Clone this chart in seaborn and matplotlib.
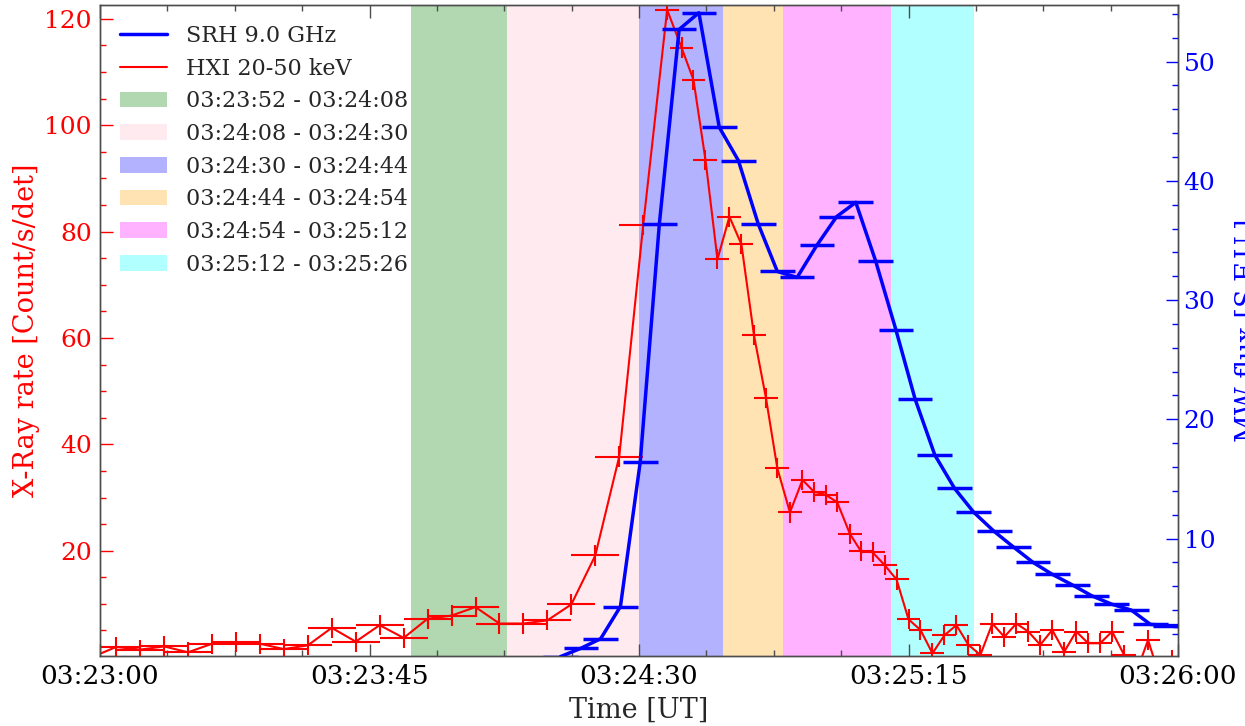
import numpy as np
import pandas as pd
import matplotlib
matplotlib.use("Agg")
import matplotlib.pyplot as plt
import seaborn as sns
from matplotlib.lines import Line2D
from matplotlib.patches import Patch
from matplotlib.ticker import MultipleLocator, FuncFormatter

# ---------------- data (times in seconds after 03:23:00 UT) ----------------
T_START = "03:23:00"

# HXI 20-50 keV, 4 s bins
hxi_t_4s = [-1.3, 2.7, 6.7, 10.7, 14.7, 18.7, 22.7, 26.7, 30.7, 34.7, 38.7, 42.7,
            46.7, 50.7, 54.7, 58.7, 62.7, 66.7, 70.7, 74.7, 78.7, 82.7, 86.7, 90.7]
hxi_rate_4s = [0.0, 1.9, 1.4, 2.0, 0.9, 2.5, 2.8, 2.5, 1.5, 2.2, 5.5, 2.9,
               6.0, 3.6, 7.2, 7.8, 9.4, 6.3, 6.3, 6.9, 9.9, 19.1, 37.7, 81.2]
# HXI 20-50 keV, 2 s bins
hxi_t_2s = [94.7, 97.1, 99.1, 101.1, 103.1, 105.1, 107.1, 109.2, 111.2, 113.1,
            115.2, 117.3, 119.2, 121.2, 123.1, 125.2, 127.0, 129.0, 131.0, 133.0,
            135.0, 137.0, 139.0, 141.0, 143.0, 145.0, 147.0, 149.0, 151.0, 153.0,
            155.0, 157.0, 159.0, 161.0, 163.0, 165.0, 167.0, 169.0, 171.0, 173.0,
            175.0, 177.0, 179.0]
hxi_rate_2s = [121.7, 114.6, 108.5, 93.5, 74.8, 82.8, 77.6, 60.5, 48.7, 35.5,
               27.2, 33.3, 31.1, 30.5, 29.1, 23.2, 20.0, 19.7, 17.3, 14.6,
               7.1, 5.1, 0.7, 4.1, 6.0, 2.3, 0.4, 6.3, 3.8, 6.3,
               4.8, 2.3, 5.1, 1.0, 4.8, 2.6, 2.6, 4.8, 0.4, -3.0,
               3.2, -3.9, -0.6]
hxi_half_4s = 4.0
hxi_half_2s = 2.0
hxi_err = 1.9

# SRH 9.0 GHz
srh_t = [76.9, 80.3, 83.6, 86.9, 90.2, 93.4, 96.7, 100.0, 103.4, 106.6, 109.9,
         113.1, 116.4, 119.7, 123.0, 126.2, 129.5, 132.9, 136.1, 139.4, 142.7,
         145.9, 149.3, 152.5, 155.8, 159.0, 162.4, 165.6, 168.9, 172.2, 175.4,
         178.7, 182.0]
srh_flux = [0.1, 0.8, 1.6, 4.3, 16.4, 36.4, 52.7, 54.1, 44.5, 41.7, 36.4,
            32.4, 31.9, 34.6, 37.0, 38.2, 33.3, 27.5, 21.7, 17.0, 14.2,
            12.2, 10.6, 9.3, 8.0, 7.0, 6.1, 5.2, 4.5, 4.0, 2.8,
            2.7, 2.7]
srh_half = 2.9

# highlighted intervals
band_starts = ["03:23:52", "03:24:08", "03:24:30", "03:24:44", "03:24:54", "03:25:12"]
band_ends = ["03:24:08", "03:24:30", "03:24:44", "03:24:54", "03:25:12", "03:25:26"]
band_colors = ["green", "pink", "blue", "orange", "magenta", "cyan"]

x_tick_labels = ["03:23:00", "03:23:45", "03:24:30", "03:25:15", "03:26:00"]


def hms_to_sec(s):
    h, m, sec = [float(v) for v in s.split(":")]
    return h * 3600 + m * 60 + sec


T0 = hms_to_sec(T_START)


def sec_fmt(v, pos=None):
    tot = int(round(T0 + v))
    return f"{tot // 3600:02d}:{(tot % 3600) // 60:02d}:{tot % 60:02d}"


# ---------------- style ----------------
sns.set_theme(style="ticks")
plt.rcParams["font.family"] = ["DejaVu Serif"]
plt.rcParams["axes.edgecolor"] = "0.3"
plt.rcParams["axes.linewidth"] = 1.0

fig = plt.figure(figsize=(12.45, 7.26), dpi=100)
ax1 = fig.add_axes([100 / 1245, 70 / 726, 1078 / 1245, 651 / 726])
ax1.set_facecolor("white")
ax2 = ax1.twinx()

# bands
for s, e, c in zip(band_starts, band_ends, band_colors):
    ax1.axvspan(hms_to_sec(s) - T0, hms_to_sec(e) - T0, color=c, alpha=0.3, lw=0, zorder=0)

# HXI
hxi = pd.DataFrame({"t": hxi_t_4s + hxi_t_2s, "rate": hxi_rate_4s + hxi_rate_2s})
sns.lineplot(data=hxi, x="t", y="rate", ax=ax1, color="red", lw=1.5,
             sort=False, estimator=None, legend=False, zorder=3)
ax1.errorbar(hxi_t_4s, hxi_rate_4s, xerr=hxi_half_4s, yerr=hxi_err, fmt="none",
             ecolor="red", elinewidth=1.5, capsize=0, zorder=3)
ax1.errorbar(hxi_t_2s, hxi_rate_2s, xerr=hxi_half_2s, yerr=hxi_err, fmt="none",
             ecolor="red", elinewidth=1.5, capsize=0, zorder=3)

# SRH
srh = pd.DataFrame({"t": srh_t, "flux": srh_flux})
sns.lineplot(data=srh, x="t", y="flux", ax=ax2, color="blue", lw=2.5,
             sort=False, estimator=None, legend=False, zorder=3)
ax2.errorbar(srh_t, srh_flux, xerr=srh_half, fmt="none", ecolor="blue",
             elinewidth=2.5, capsize=0, zorder=3)

# axes
ax1.set_xlim(hms_to_sec(x_tick_labels[0]) - T0, hms_to_sec(x_tick_labels[-1]) - T0)
ax1.set_ylim(0.2, 122.6)
ax2.set_ylim(0.15, 54.75)

ax1.xaxis.set_major_locator(MultipleLocator(45))
ax1.xaxis.set_minor_locator(MultipleLocator(11.25))
ax1.xaxis.set_major_formatter(FuncFormatter(sec_fmt))
ax1.yaxis.set_major_locator(MultipleLocator(20))
ax1.yaxis.set_minor_locator(MultipleLocator(5))
ax2.yaxis.set_major_locator(MultipleLocator(10))
ax2.yaxis.set_minor_locator(MultipleLocator(2))

ax1.tick_params(axis="x", which="both", direction="in", top=True, bottom=True,
                colors="0.3", labelcolor="black", labelsize=19, pad=6)
ax1.tick_params(axis="y", which="both", direction="in", left=True, right=False,
                colors="red", labelsize=18, pad=6)
ax2.tick_params(axis="y", which="both", direction="in", right=True,
                colors="blue", labelsize=18, pad=4)
for ax in (ax1, ax2):
    ax.tick_params(which="major", length=9, width=1.0)
    ax.tick_params(which="minor", length=4.5, width=1.0)

ax1.set_xlabel("Time [UT]", fontsize=19.5, labelpad=5)
ax1.set_ylabel("X-Ray rate [Count/s/det]", fontsize=19.5, color="red", labelpad=3)
ax2.set_ylabel("MW flux [S.F.U.]", fontsize=19.5, color="blue", labelpad=14)

# legend
handles = [Line2D([0], [0], color="blue", lw=2.5, label="SRH 9.0 GHz"),
           Line2D([0], [0], color="red", lw=1.5, label="HXI 20-50 keV")]
for s, e, c in zip(band_starts, band_ends, band_colors):
    handles.append(Patch(facecolor=c, alpha=0.3, lw=0, label=f"{s} - {e}"))
ax2.legend(handles=handles, loc="upper left", frameon=False, fontsize=16,
           labelspacing=0.48, handlelength=2.1, handletextpad=0.85)

fig.savefig("out.png", dpi=100)
